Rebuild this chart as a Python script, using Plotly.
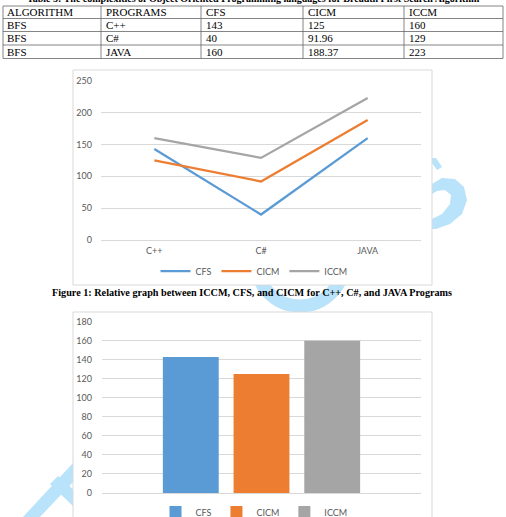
import plotly.graph_objects as go

# ---------------- data ----------------
programs = ["C++", "C#", "JAVA"]
series_names = ["CFS", "CICM", "ICCM"]
cfs = [143, 40, 160]
cicm = [125, 91.96, 188.37]
iccm = [160, 129, 223]
algorithm = ["BFS", "BFS", "BFS"]
table_headers = ["ALGORITHM", "PROGRAMS", "CFS", "CICM", "ICCM"]
line_yticks = [0, 50, 100, 150, 200, 250]
bar_yticks = [0, 20, 40, 60, 80, 100, 120, 140, 160, 180]
table_title = "Table 5: The complexities of Object Oriented Programming languages for Breadth First Search Algorithm"
fig_caption = "Figure 1: Relative graph between ICCM, CFS, and CICM for C++, C#, and JAVA Programs"

colors = ["#5b9bd5", "#ed7d31", "#a5a5a5"]
W, H = 506, 517


def X(p):
    return p / W


def Y(p):
    return 1 - p / H


def path(points):
    return "M " + " L ".join(f"{X(a):.5f},{Y(b):.5f}" for a, b in points) + " Z"


fig = go.Figure()

series_vals = [cfs, cicm, iccm]
for name, vals, col in zip(series_names, series_vals, colors):
    fig.add_trace(go.Scatter(x=programs, y=vals, mode="lines", name=name,
                             line=dict(color=col, width=2.25),
                             xaxis="x", yaxis="y", legend="legend",
                             hoverinfo="skip"))
for name, vals, col in zip(series_names, series_vals, colors):
    fig.add_trace(go.Bar(x=[programs[0]], y=[vals[0]], name=name,
                         marker=dict(color=col, line=dict(width=0)),
                         xaxis="x2", yaxis="y2", legend="legend2",
                         hoverinfo="skip"))

shapes = []
wm = "#b8e3fb"
# watermark pieces (behind chart boxes)
shapes.append(dict(type="path", xref="paper", yref="paper", layer="below",
                   path=path([(432, 184), (442, 178), (455, 179), (464, 187), (467, 200),
                              (462, 214), (450, 224), (436, 229), (432, 229), (432, 219),
                              (442, 214), (450, 204), (451, 195), (445, 190), (437, 191), (432, 194)]),
                   fillcolor=wm, line=dict(width=0)))
shapes.append(dict(type="path", xref="paper", yref="paper", layer="below",
                   path=path([(432, 158), (436, 158), (442, 167), (437, 170), (432, 163)]),
                   fillcolor=wm, line=dict(width=0)))
shapes.append(dict(type="circle", xref="paper", yref="paper", layer="below",
                   x0=X(300 - 44), x1=X(300 + 44), y0=Y(262 - 44), y1=Y(262 + 44),
                   line=dict(color=wm, width=13), fillcolor="rgba(0,0,0,0)"))
shapes.append(dict(type="path", xref="paper", yref="paper", layer="below",
                   path=path([(22, 518), (39, 518), (74, 481), (74, 462)]),
                   fillcolor=wm, line=dict(width=0)))
shapes.append(dict(type="path", xref="paper", yref="paper", layer="below",
                   path=path([(50, 484), (58, 476), (74, 490), (74, 507)]),
                   fillcolor=wm, line=dict(width=0)))
# chart boxes
shapes.append(dict(type="rect", xref="paper", yref="paper", layer="below",
                   x0=X(73), x1=X(432), y0=Y(285), y1=Y(70),
                   fillcolor="white", line=dict(color="#d9d9d9", width=1)))
shapes.append(dict(type="rect", xref="paper", yref="paper", layer="below",
                   x0=X(73), x1=X(432), y0=Y(530), y1=Y(312),
                   fillcolor="white", line=dict(color="#d9d9d9", width=1)))
# table grid
row_lines = [6, 18.5, 31.5, 45, 58.5]
col_lines = [3, 101, 201, 303, 404, 503]
for yy in row_lines:
    shapes.append(dict(type="line", xref="paper", yref="paper", x0=X(col_lines[0]), x1=X(col_lines[-1]),
                       y0=Y(yy), y1=Y(yy), line=dict(color="#666666", width=0.8)))
for xx in col_lines:
    shapes.append(dict(type="line", xref="paper", yref="paper", x0=X(xx), x1=X(xx),
                       y0=Y(row_lines[0]), y1=Y(row_lines[-1]), line=dict(color="#666666", width=0.8)))

annotations = []
serif = "Liberation Serif"
annotations.append(dict(text=f"<b>{table_title}</b>", xref="paper", yref="paper",
                        x=X(253), y=Y(-1.5), xanchor="center", yanchor="middle", showarrow=False,
                        font=dict(family=serif, size=10, color="black")))
annotations.append(dict(text=f"<b>{fig_caption}</b>", xref="paper", yref="paper",
                        x=X(252), y=Y(292.5), xanchor="center", yanchor="middle", showarrow=False,
                        font=dict(family=serif, size=10.2, color="black")))
row_centers = [12.3, 25, 38.3, 51.8]
col_text_x = [5, 104, 204, 306, 407]
rows = [table_headers]
for i in range(len(programs)):
    rows.append([algorithm[i], programs[i], f"{cfs[i]:g}", f"{cicm[i]:g}", f"{iccm[i]:g}"])
for r, row in enumerate(rows):
    for c, txt in enumerate(row):
        annotations.append(dict(text=txt, xref="paper", yref="paper",
                                x=X(col_text_x[c]), y=Y(row_centers[r]), xanchor="left", yanchor="middle",
                                showarrow=False, font=dict(family=serif, size=11, color="black")))

tickfont = dict(family="Lato", size=9, color="#595959")
fig.update_layout(
    width=W, height=H, autosize=False,
    margin=dict(l=0, r=0, t=0, b=0, pad=0, autoexpand=False),
    paper_bgcolor="white", plot_bgcolor="white",
    showlegend=True,
    xaxis=dict(domain=[X(101), X(421)], range=[-0.5, 2.5], type="category",
               showgrid=False, zeroline=False, showline=False, ticks="",
               tickfont=tickfont, anchor="y", fixedrange=True, ticklabelstandoff=4),
    yaxis=dict(domain=[Y(240), Y(80.5)], range=[0, 250.5], tickvals=line_yticks,
               gridcolor="#d9d9d9", gridwidth=1, zeroline=True, zerolinecolor="#d9d9d9",
               zerolinewidth=1, showline=False, ticks="", tickfont=tickfont, anchor="x",
               ticklabelstandoff=8, fixedrange=True),
    xaxis2=dict(domain=[X(102), X(421)], range=[-0.5, 0.5], type="category",
                showgrid=False, zeroline=False, showline=False, ticks="",
                showticklabels=False, anchor="y2", fixedrange=True),
    yaxis2=dict(domain=[Y(493), Y(321.5)], range=[0, 180.3], tickvals=bar_yticks,
                gridcolor="#d9d9d9", gridwidth=1, zeroline=True, zerolinecolor="#d9d9d9",
                zerolinewidth=1, showline=False, ticks="", tickfont=tickfont, anchor="x2",
                ticklabelstandoff=9, fixedrange=True),
    barmode="group", bargap=0.335, bargroupgap=0.21,
    legend=dict(orientation="h", x=X(254), xanchor="center", y=Y(271), yanchor="middle",
                font=tickfont, itemwidth=30, bgcolor="rgba(0,0,0,0)"),
    legend2=dict(orientation="h", x=X(254), xanchor="center", y=Y(512), yanchor="middle",
                 font=tickfont, itemwidth=30, bgcolor="rgba(0,0,0,0)"),
    shapes=shapes,
    annotations=annotations,
)

fig.write_html("out.html", config=dict(displayModeBar=False),
               post_script="document.body.style.margin='0';document.body.style.overflow='hidden';")
